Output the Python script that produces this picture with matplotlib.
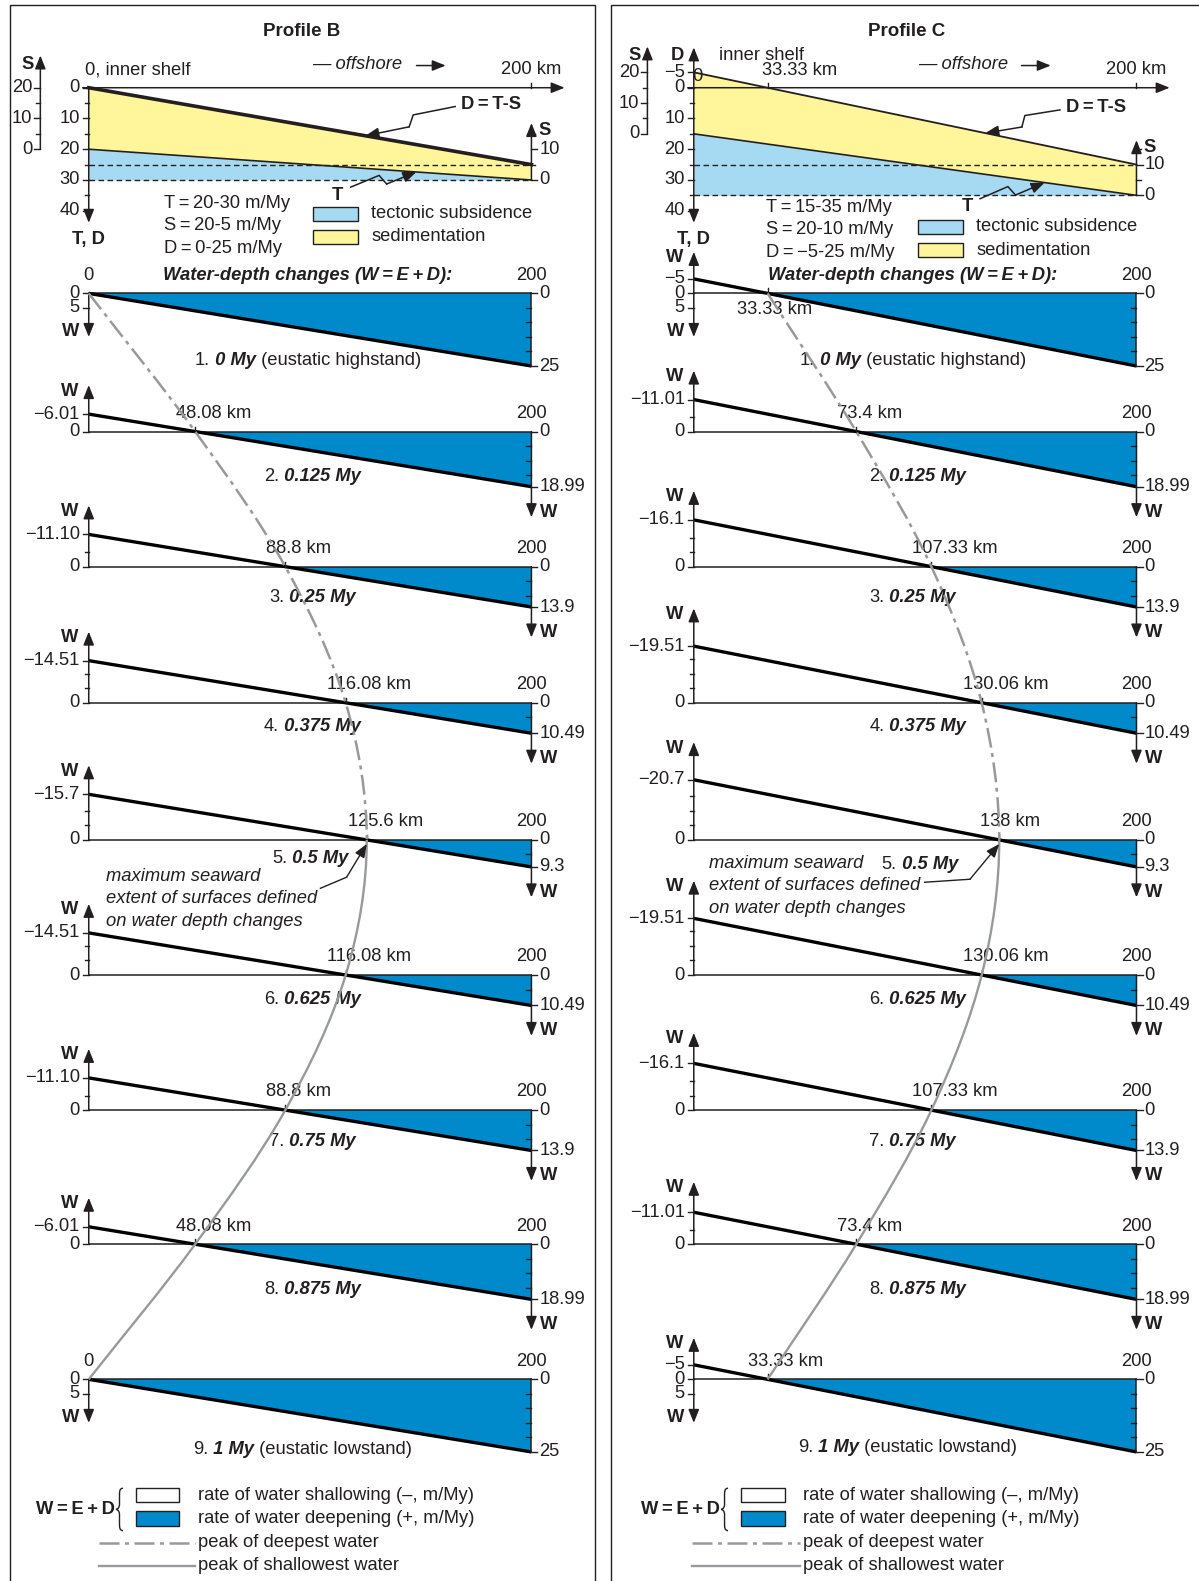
import matplotlib
matplotlib.use("Agg")
import matplotlib.pyplot as plt
from matplotlib.patches import Rectangle, PathPatch
from matplotlib.path import Path
import numpy as np

plt.rcParams["font.family"] = ["Liberation Sans", "DejaVu Sans"]

# ---------------- data ----------------
titles = ["Profile B", "Profile C"]
# top sketches: rates (m/My) at 0 km and at 200 km
tect = [[20, 30], [15, 35]]
sedi = [[20, 5], [20, 10]]
depo = [[0, 25], [-5, 25]]          # D = T - S
d_zero_km = [0, 33.33]
td_ticks = [[0, 10, 20, 30, 40], [-5, 0, 10, 20, 30, 40]]
rate_lines = [["T\u2009=\u200920-30 m/My", "S\u2009=\u200920-5 m/My", "D\u2009=\u20090-25 m/My"],
              ["T\u2009=\u200915-35 m/My", "S\u2009=\u200920-10 m/My", "D\u2009=\u2009\u22125-25 m/My"]]

# water-depth change W (m/My) at 0 km and 200 km, nine time slices
ages = ["0 My", "0.125 My", "0.25 My", "0.375 My", "0.5 My", "0.625 My", "0.75 My", "0.875 My", "1 My"]
age_notes = [" (eustatic highstand)", "", "", "", "", "", "", "", " (eustatic lowstand)"]
w_inner = [[0, -6.01, -11.10, -14.51, -15.7, -14.51, -11.10, -6.01, 0],
           [-5, -11.01, -16.1, -19.51, -20.7, -19.51, -16.1, -11.01, -5]]
w_inner_lbl = [["0", "\u22126.01", "\u221211.10", "\u221214.51", "\u221215.7", "\u221214.51", "\u221211.10", "\u22126.01", "0"],
               ["\u22125", "\u221211.01", "\u221216.1", "\u221219.51", "\u221220.7", "\u221219.51", "\u221216.1", "\u221211.01", "\u22125"]]
w_outer = [25, 18.99, 13.9, 10.49, 9.3, 10.49, 13.9, 18.99, 25]
w_outer_lbl = ["25", "18.99", "13.9", "10.49", "9.3", "10.49", "13.9", "18.99", "25"]
cross_km = [[0, 48.08, 88.8, 116.08, 125.6, 116.08, 88.8, 48.08, 0],
            [33.33, 73.4, 107.33, 130.06, 138, 130.06, 107.33, 73.4, 33.33]]
cross_lbl = [["0", "48.08", "88.8", "116.08", "125.6", "116.08", "88.8", "48.08", "0"],
             ["33.33", "73.4", "107.33", "130.06", "138", "130.06", "107.33", "73.4", "33.33"]]

# ---------------- layout (reference pixels) ----------------
W, H = 1189, 1568
DPI = 100
PT = 72 / DPI * 1199 / W
FS = 13.2

INK = "#231f20"
BLUE = "#008acb"
LIGHT = "#a6daf2"
YELLOW = "#fff59b"
GREY = "#97999c"
DASHDOT = (0, (8, 2.2, 1.6, 2.2))

X0 = [88, 688]
KX = 439 / 200
ROW_Y = [291, 428, 562, 697, 833, 967, 1101, 1234, 1368]
WY = 2.88
TOP_Y = 87
TY = 3.05
S_AX_PX = [40, 642]
S_TIP_Y = [55, 46]
RS_TIP_Y = [122, 139]
TD_TIP_Y = [221, 47]
UP_PAD = [[0, 10, 10, 10, 10, 10, 10, 10, 0], [9.3, 10, 10, 13, 13, 13, 10.5, 10.5, 9.3]]
AGE_DX = [[217, 222, 222, 222, 220, 222, 222, 222, 212], [217, 222, 217, 222, 224, 222, 217, 222, 212]]
AGE_DY = [[67, 45, 31, 24, 18, 24, 31, 45, 70], [67, 45, 31, 24, 24, 24, 31, 45, 68]]

fig = plt.figure(figsize=(11.99, 15.81), dpi=DPI)
ov = fig.add_axes([0, 0, 1, 1])
ov.set_xlim(0, W)
ov.set_ylim(H, 0)
ov.axis("off")
ov.set_zorder(5)
renderer = fig.canvas.get_renderer()


def px_axes(x0, y0, sx, sy, left, right, up, down):
    ax = fig.add_axes([(x0 - left) / W, 1 - (y0 + down) / H, (left + right) / W, (up + down) / H])
    ax.set_xlim(-left / sx, right / sx)
    ax.set_ylim(down / sy, -up / sy)
    ax.axis("off")
    return ax


def put(ax, x, y, s, dx=0, dy=0, ha="center", va="center", size=FS, **kw):
    return ax.annotate(s, (x, y), xytext=(dx * PT, -dy * PT), textcoords="offset points",
                       ha=ha, va=va, fontsize=size, color=INK, annotation_clip=False, **kw)


def arrow(ax, start, tip, lw=1.1):
    ax.annotate("", xy=tuple(tip), xytext=tuple(start), annotation_clip=False,
                arrowprops=dict(arrowstyle="-|>,head_length=0.9,head_width=0.36", mutation_scale=9,
                                color=INK, lw=lw, shrinkA=0, shrinkB=0))


def ticks(ax, x, vals, length, sx, lw=1.0):
    for v in vals:
        ax.plot([x, x + length / sx], [v, v], color=INK, lw=lw, clip_on=False)


def to_ov(ax, xy):
    return ov.transData.inverted().transform(ax.transData.transform(xy))


def rich(ax, x, y, parts, dx=0, dy=0, size=FS):
    items = []
    for k, (s, st) in enumerate(parts):
        kw = dict(fontsize=size, color=INK, annotation_clip=False, ha="left",
                  fontweight="bold" if "b" in st else "normal",
                  fontstyle="italic" if "i" in st else "normal")
        if k == 0:
            t = ax.annotate(s, (x, y), xytext=(dx * PT, -dy * PT), textcoords="offset points", va="center", **kw)
        else:
            t = ax.annotate(s, xy=(1, 0), xycoords=items[-1], va="bottom", **kw)
        items.append(t)
    total = sum(t.get_window_extent(renderer).width for t in items) * 72 / DPI
    items[0].xyann = (dx * PT - total / 2, -dy * PT)


def zigzag(ax, tip_xy, start_off, h=5):
    E = np.array(to_ov(ax, tip_xy))
    S = E + np.array(start_off, float)
    L = np.hypot(*(E - S))
    u = (E - S) / L
    n = np.array([-u[1], u[0]])
    if n[1] > 0:
        n = -n
    A = S + 0.45 * L * u + h * n
    B = S + 0.53 * L * u - h * n
    ov.plot([S[0], A[0], B[0]], [S[1], A[1], B[1]], color=INK, lw=1.1)
    arrow(ov, B, E)
    return S


def smooth(pts):
    P = np.vstack([2 * pts[0] - pts[1], pts, 2 * pts[-1] - pts[-2]])
    verts, codes = [P[1]], [Path.MOVETO]
    for k in range(1, len(P) - 2):
        verts += [P[k] + (P[k + 1] - P[k - 1]) / 6, P[k + 1] - (P[k + 2] - P[k]) / 6, P[k + 1]]
        codes += [Path.CURVE4] * 3
    return verts, codes


def brace(bx, by, h=42, w=7):
    C4, LT = Path.CURVE4, Path.LINETO
    v = [(bx + w, by - h / 2),
         (bx + w / 2, by - h / 2), (bx + w / 2, by - h / 2 + 3), (bx + w / 2, by - h / 2 + 8),
         (bx + w / 2, by - 5),
         (bx + w / 2, by - 2), (bx + w / 4, by), (bx, by),
         (bx + w / 4, by), (bx + w / 2, by + 2), (bx + w / 2, by + 5),
         (bx + w / 2, by + h / 2 - 8),
         (bx + w / 2, by + h / 2 - 3), (bx + w / 2, by + h / 2), (bx + w, by + h / 2)]
    c = [Path.MOVETO, C4, C4, C4, LT, C4, C4, C4, C4, C4, C4, LT, C4, C4, C4]
    ov.add_patch(PathPatch(Path(v, c), fill=False, ec=INK, lw=1.0))


for p in range(2):
    x0 = X0[p]
    T, S, D = tect[p], sedi[p], depo[p]
    km = [0, 200]

    # ---------- frame and headers ----------
    fx = [10, 606][p]
    ov.add_patch(Rectangle((fx, 5), [580, 600][p], 1600, fill=False, ec=INK, lw=1.0, clip_on=False))
    ov.text(x0 + 211, 31, titles[p], ha="center", va="center", fontsize=13.5, fontweight="bold", color=INK)
    ov.text(x0 + 222, 64, "\u2014 offshore", ha="left", va="center", fontsize=FS, style="italic", color=INK)
    arrow(ov, (x0 + 325, 65), (x0 + 354, 65))
    ov.text(x0 + 439, 69, "200 km", ha="center", va="center", fontsize=FS, color=INK)
    if p == 0:
        ov.text(x0 - 4, 69, "0, inner shelf", ha="left", va="center", fontsize=FS, color=INK)
    else:
        ov.text(x0 + 25, 55, "inner shelf", ha="left", va="center", fontsize=FS, color=INK)
    ry = [202, 206][p]
    for k, s in enumerate(rate_lines[p]):
        ov.text(x0 + [75, 72][p], ry + 22 * k, s, ha="left", va="center", fontsize=FS, color=INK)
    by = [205, 218][p]
    for k, (col, lab) in enumerate([(LIGHT, "tectonic subsidence"), (YELLOW, "sedimentation")]):
        ov.add_patch(Rectangle((x0 + 222, by + 23 * k), 45, 14, fc=col, ec=INK, lw=1.0))
        ov.text(x0 + 280, by + 7 + 23 * k, lab, ha="left", va="center", fontsize=FS, color=INK)
    ov.text(x0 + 217, 273, "Water-depth changes (W\u2009=\u2009E\u2009+\u2009D):", ha="center", va="center",
            fontsize=FS, fontweight="bold", style="italic", color=INK)

    # ---------- top sketch ----------
    ax = px_axes(x0, TOP_Y, KX, TY, 90, 520, 70, 160)
    ax.fill_between(km, T, [T[1], T[1]], color=LIGHT, lw=0)
    ax.fill_between(km, D, T, color=YELLOW, lw=0)
    for lev in (D[1], T[1]):
        ax.plot(km, [lev, lev], color=INK, lw=1.0, ls=(0, (4, 2.5)))
    ax.plot(km, T, color=INK, lw=1.2)
    ax.plot(km, D, color=INK, lw=2.6 if p == 0 else 1.3)
    arrow(ax, (-6 / KX, 0), (215, 0))
    for k in [200] + ([d_zero_km[p]] if d_zero_km[p] > 0 else []):
        ax.plot([k, k], [0, -5 / TY], color=INK, lw=1.0)
    if d_zero_km[p] > 0:
        put(ax, d_zero_km[p], 0, f"{d_zero_km[p]:g} km", dx=-6, dy=-17, ha="left")
        put(ax, 0, 0, "0", dx=4, dy=-11)
    # T, D axis
    arrow(ax, (0, 0), (0, (221 - TOP_Y) / TY))
    put(ax, 0, (221 - TOP_Y) / TY, "T, D", dy=17, fontweight="bold")
    if p == 1:
        dtip = (TD_TIP_Y[1] - TOP_Y) / TY
        arrow(ax, (0, 0), (0, dtip))
        put(ax, 0, dtip, "D", dx=-16, dy=8, fontweight="bold")
    ticks(ax, 0, td_ticks[p], -6, KX)
    ticks(ax, 0, [5, 15, 25, 35], -4, KX)
    for v in td_ticks[p]:
        put(ax, 0, v, f"{v:d}".replace("-", "\u2212"), dx=-9, ha="right")
    # S axes
    xs = (S_AX_PX[p] - x0) / KX
    stip = (S_TIP_Y[p] - TOP_Y) / TY
    arrow(ax, (xs, T[0]), (xs, stip))
    put(ax, xs, stip, "S", dx=-13, dy=9, fontweight="bold")
    ticks(ax, xs, [T[0] - s for s in (0, 10, 20)], -6, KX)
    ticks(ax, xs, [T[0] - s for s in (5, 15)], -4, KX)
    for s in (0, 10, 20):
        put(ax, xs, T[0] - s, str(s), dx=-8, ha="right")
    rtip = (RS_TIP_Y[p] - TOP_Y) / TY
    arrow(ax, (200, T[1]), (200, rtip))
    put(ax, 200, rtip, "S", dx=13, dy=7, fontweight="bold")
    ticks(ax, 200, [T[1] - s for s in (0, 10)], 6, KX)
    ticks(ax, 200, [T[1] - s for s in (5, 15)], 4, KX)
    for s in (0, 10):
        put(ax, 200, T[1] - s, str(s), dx=8, ha="left")
    # lightning arrows
    zkm = [[125, 148], [131.7, 158.5]][p]
    s0 = zigzag(ax, (zkm[0], np.interp(zkm[0], km, D)), [(89, -29), (74, -23)][p])
    ov.text(s0[0] + 6, s0[1] - 2, "D\u2009=\u2009T-S", ha="left", va="center", fontsize=FS, fontweight="bold", color=INK)
    s1 = zigzag(ax, (zkm[1], np.interp(zkm[1], km, T)), [(-65, 15), (-64, 16)][p])
    ov.text(s1[0] - 13, s1[1] + 8, "T", ha="center", va="center", fontsize=FS, fontweight="bold", color=INK)

    # ---------- water-depth rows ----------
    pts = []
    note_tip = None
    for i in range(9):
        yb = ROW_Y[i]
        ax = px_axes(x0, yb, KX, WY, 95, 520, 120, 110)
        w0, w2, c = w_inner[p][i], w_outer[i], cross_km[p][i]
        end_row = i in (0, 8)
        ax.fill([c, 200, 200], [0, 0, w2], color=BLUE, lw=0)
        ax.plot(km, [0, 0], color=INK, lw=1.1)
        ax.plot(km, [w0, w2], color="black", lw=2.4, solid_capstyle="butt")
        # left axis
        major = [0]
        if w0 < 0:
            wtip = w0 - UP_PAD[p][i]
            arrow(ax, (0, 0), (0, wtip))
            put(ax, 0, wtip, "W", dx=-19, dy=6, fontweight="bold")
            major.append(w0)
        if end_row:
            arrow(ax, (0, 0), (0, 15))
            put(ax, 0, 15, "W", dx=-18, dy=-5, fontweight="bold")
            major.append(5)
        ticks(ax, 0, major, -6, KX)
        ticks(ax, 0, [v for v in range(-5, -40, -5) if v > w0 + 2], -4, KX)
        put(ax, 0, 0, "0", dx=-9, ha="right")
        if w0 < 0:
            put(ax, 0, w0, w_inner_lbl[p][i], dx=-9, ha="right")
        if end_row:
            put(ax, 0, 5, "5", dx=-9, ha="right")
        # right axis
        if end_row:
            ax.plot([200, 200], [0, w2], color=INK, lw=1.1)
        else:
            arrow(ax, (200, 0), (200, w2 + 10.5))
            put(ax, 200, w2 + 10.5, "W", dx=17, dy=-5, fontweight="bold")
        ticks(ax, 200, [0, w2], 6, KX)
        ticks(ax, 200, [v for v in range(5, 30, 5) if v < w2 - 1], -5, KX)
        put(ax, 200, 0, "0", dx=8, ha="left")
        put(ax, 200, w2, w_outer_lbl[i], dx=8, ha="left")
        put(ax, 200, 0, "200", dy=-18)
        # zero crossing
        if c == 0:
            put(ax, 0, 0, "0", dy=-18)
        else:
            ax.plot([c, c], [0, -5 / WY], color=INK, lw=1.0)
            if p == 1 and i == 0:
                put(ax, c, 0, cross_lbl[p][i] + " km", dx=-30, dy=16, ha="left")
            else:
                put(ax, c, 0, cross_lbl[p][i] + " km", dx=-19, dy=-18, ha="left")
        # time-slice caption
        parts = [(f"{i + 1}.", "n"), (" " + ages[i], "bi")]
        if age_notes[i]:
            parts.append((age_notes[i], "n"))
        rich(ax, AGE_DX[p][i] / KX, 0, parts, dy=AGE_DY[p][i])
        pts.append(to_ov(ax, (c, 0)))
        if i == 4:
            note_tip = np.array(to_ov(ax, (c, 0))) + np.array([0, 4])

    # peak curves through the zero crossings
    verts, codes = smooth(np.array(pts))
    ov.add_patch(PathPatch(Path(verts[:13], codes[:13]), fill=False, ec=GREY, lw=1.8, ls=DASHDOT))
    ov.add_patch(PathPatch(Path(verts[12:], [Path.MOVETO] + codes[13:]), fill=False, ec=GREY, lw=1.7))

    # note on the maximum seaward extent
    tx, ty = [(105, 869), (703, 856)][p]
    for k, s in enumerate(["maximum seaward", "extent of surfaces defined", "on water depth changes"]):
        ov.text(tx, ty + 22.5 * k, s, ha="left", va="center", fontsize=FS, style="italic", color=INK)
    bend = note_tip + np.array([(-20, 33), (-29, 35)][p])
    start = note_tip + np.array([(-46, 44), (-74, 38)][p])
    ov.plot([start[0], bend[0]], [start[1], bend[1]], color=INK, lw=1.0)
    arrow(ov, bend, note_tip, lw=1.0)

    # ---------- legend ----------
    ov.text(x0 - 13, 1497, "W\u2009=\u2009E\u2009+\u2009D", ha="center", va="center", fontsize=FS, fontweight="bold", color=INK)
    brace(x0 + 27, 1497)
    for k, (col, lab) in enumerate([("white", "rate of water shallowing (\u2013, m/My)"),
                                     (BLUE, "rate of water deepening (+, m/My)")]):
        ov.add_patch(Rectangle((x0 + 47, 1476 + 23 * k), 43, 14, fc=col, ec=INK, lw=1.0))
        ov.text(x0 + 108, 1483 + 23 * k, lab, ha="left", va="center", fontsize=FS, color=INK)
    lx = [10, -2][p]
    ov.plot([x0 + lx, x0 + 105], [1530, 1530], color=GREY, lw=1.8, ls=DASHDOT)
    ov.plot([x0 + lx, x0 + 105], [1553, 1553], color=GREY, lw=1.7)
    ov.text(x0 + 108, 1530, "peak of deepest water", ha="left", va="center", fontsize=FS, color=INK)
    ov.text(x0 + 108, 1553, "peak of shallowest water", ha="left", va="center", fontsize=FS, color=INK)

fig.savefig("out.png", dpi=DPI)
